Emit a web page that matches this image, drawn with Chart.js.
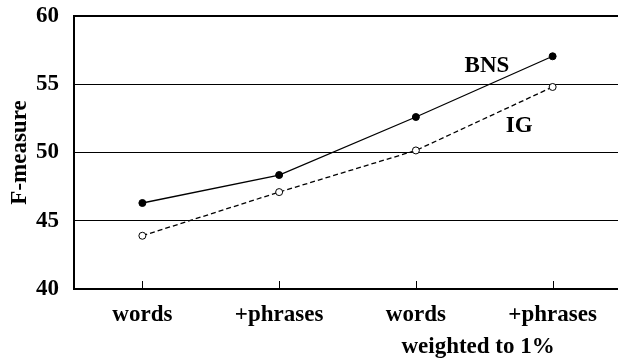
<!DOCTYPE html>
<html>
<head>
<meta charset="utf-8">
<script src="https://cdn.jsdelivr.net/npm/chart.js@4"></script>
<style>
  html, body { margin: 0; padding: 0; background: #fff; overflow: hidden; }
  #wrap { width: 626px; height: 360px; }
</style>
</head>
<body>
<div id="wrap"><canvas id="c" width="626" height="360"></canvas></div>
<script>
const categories = ['words', '+phrases', 'words', '+phrases'];
const bnsValues = [46.3, 48.35, 52.6, 57.05];
const igValues = [43.9, 47.1, 50.15, 54.8];
const yTicks = [40, 45, 50, 55, 60];
const groupLabel = 'weighted to 1%';

const FONT = '"Liberation Serif", "DejaVu Serif", serif';

// Small upward ticks on the category axis, series names and the group caption
const decorations = {
  id: 'decorations',
  afterDraw(chart) {
    const { ctx, chartArea, scales } = chart;
    const x = scales.x, y = scales.y;
    ctx.save();
    ctx.strokeStyle = '#000';
    ctx.lineWidth = 1;
    categories.forEach((_, i) => {
      const px = Math.round(x.getPixelForValue(i)) + 0.5;
      ctx.beginPath();
      ctx.moveTo(px, chartArea.bottom);
      ctx.lineTo(px, chartArea.bottom - 8);
      ctx.stroke();
    });
    ctx.fillStyle = '#000';
    ctx.font = 'bold 23px ' + FONT;
    ctx.textAlign = 'center';
    ctx.textBaseline = 'middle';
    const p2 = x.getPixelForValue(2), p3 = x.getPixelForValue(3);
    ctx.fillText('BNS', p2 + (p3 - p2) * 0.52, y.getPixelForValue(56.35));
    ctx.fillText('IG', p2 + (p3 - p2) * 0.755, y.getPixelForValue(51.95));
    ctx.fillText(groupLabel, p2 + (p3 - p2) * 0.455, 347);
    ctx.restore();
  }
};

new Chart(document.getElementById('c'), {
  type: 'line',
  data: {
    labels: categories,
    datasets: [
      {
        label: 'BNS',
        data: bnsValues,
        borderColor: '#000',
        borderWidth: 1.3,
        pointRadius: 3.5,
        pointBackgroundColor: '#000',
        pointBorderColor: '#000',
        pointBorderWidth: 1,
        tension: 0
      },
      {
        label: 'IG',
        data: igValues,
        borderColor: '#000',
        borderWidth: 1.3,
        borderDash: [5, 3],
        pointRadius: 3.5,
        pointBackgroundColor: '#fff',
        pointBorderColor: '#000',
        pointBorderWidth: 1,
        tension: 0
      }
    ]
  },
  options: {
    responsive: false,
    animation: false,
    layout: { padding: { top: 16, right: 0, left: 0, bottom: 0 } },
    plugins: { legend: { display: false }, tooltip: { enabled: false } },
    scales: {
      x: {
        type: 'category',
        offset: true,
        grid: { display: false, drawTicks: false },
        border: { display: true, color: '#000', width: 2 },
        ticks: {
          color: '#000',
          padding: 12,
          maxRotation: 0,
          autoSkip: false,
          font: { family: FONT, size: 23, weight: 'bold' }
        },
        afterFit(scale) { scale.height = 71; }
      },
      y: {
        min: 40,
        max: 60,
        afterBuildTicks(scale) { scale.ticks = yTicks.map(v => ({ value: v })); },
        grid: {
          color: '#000',
          lineWidth: (c) => (c.tick && c.tick.value === 60 ? 2 : 1),
          drawTicks: false
        },
        border: { display: true, color: '#000', width: 2 },
        ticks: {
          color: '#000',
          padding: 15,
          font: { family: FONT, size: 23, weight: 'bold' }
        },
        title: {
          display: true,
          text: 'F-measure',
          color: '#000',
          padding: { top: 6, bottom: 0 },
          font: { family: FONT, size: 23, weight: 'bold' }
        },
        afterFit(scale) {
          scale.width = 74;
          scale.paddingTop = 0;
          scale.paddingBottom = 0;
        }
      }
    }
  },
  plugins: [decorations]
});
</script>
</body>
</html>
